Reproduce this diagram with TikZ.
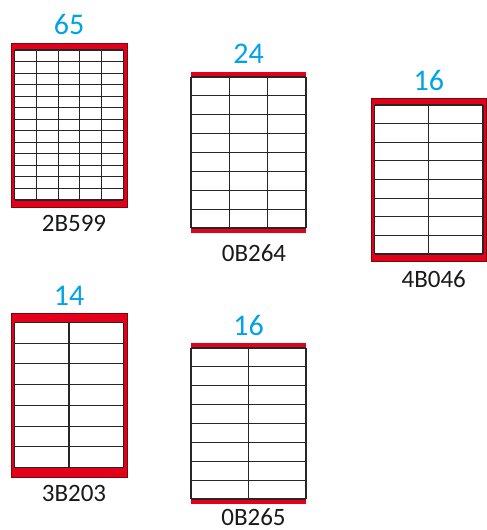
\documentclass[tikz,border=0pt]{standalone}
\usepackage{fontspec}
\setmainfont{Carlito}
\usetikzlibrary{positioning,calc}
\definecolor{crojo}{HTML}{E2001A}
\definecolor{crojoosc}{HTML}{7A0A0A}
\definecolor{celeste}{HTML}{00A2E8}
\tikzset{
  hoja/.style={rectangle, fill=crojo, draw=crojoosc, line width=0.8pt,
    inner sep=0pt, outer sep=0pt, minimum width=116pt, minimum height=164pt},
  hojat/.style={hoja, draw=none, minimum width=115pt, minimum height=161pt},
  rejilla/.style={draw=black!85, line width=1.1pt},
  num/.style={font=\fontsize{30}{30}\selectfont, text=celeste, inner sep=0pt},
  codigo/.style={font=\fontsize{25}{25}\selectfont, text=black!90, inner sep=0pt},
}
% etiquetas dentro de una hoja: nombre, columnas, filas, margen lateral, margen vertical
\newcommand{\etiquetas}[5]{%
  \coordinate (#1-a) at ($(#1.north west)+(#4,#5)$);
  \coordinate (#1-b) at ($(#1.south east)+(-#4,-#5)$);
  \fill[white] (#1-a) rectangle (#1-b);
  \foreach \i in {0,...,#2}
    \draw[rejilla] ($(#1-a)!\i/#2!(#1-a -| #1-b)$) -- ($(#1-a |- #1-b)!\i/#2!(#1-b)$);
  \foreach \j in {0,...,#3}
    \draw[rejilla] ($(#1-a)!\j/#3!(#1-a |- #1-b)$) -- ($(#1-a -| #1-b)!\j/#3!(#1-b)$);
}
\begin{document}
\begin{tikzpicture}[x=1pt, y=-1pt]
  \useasboundingbox (0,0) rectangle (487,530);
  % hojas
  \node[hoja] (s1) at (69,125) {};
  \node[hojat] (s2) at (248.5,152.5) {};
  \node[hoja, minimum width=115.5pt, minimum height=163pt] (s3) at (428.75,179.5) {};
  \node[hoja] (s4) at (69,395) {};
  \node[hojat] (s5) at (248.5,423.5) {};
  \etiquetas{s1}{5}{13}{3.7}{7}
  \etiquetas{s2}{3}{8}{0}{5}
  \etiquetas{s3}{2}{8}{3.5}{7}
  \etiquetas{s4}{2}{7}{3.7}{9.5}
  \etiquetas{s5}{2}{8}{0}{5}
  % cantidades
  \node[num, above=8pt of s1] (n1) {65};
  \node[num, above=8.5pt of s2] (n2) {24};
  \node[num, above=7pt of s3] (n3) {16};
  \node[num, above=7pt of s4] (n4) {14};
  \node[num, above=7pt of s5] (n5) {16};
  % referencias
  \node[codigo, below=8pt of s1, xshift=5pt] (c1) {2B599};
  \node[codigo, below=11pt of s2, xshift=5.5pt] (c2) {0B264};
  \node[codigo, below=9pt of s3, xshift=5pt] (c3) {4B046};
  \node[codigo, below=8pt of s4, xshift=5pt] (c4) {3B203};
  \node[codigo, below=4pt of s5, xshift=5pt] (c5) {0B265};
\end{tikzpicture}
\end{document}
